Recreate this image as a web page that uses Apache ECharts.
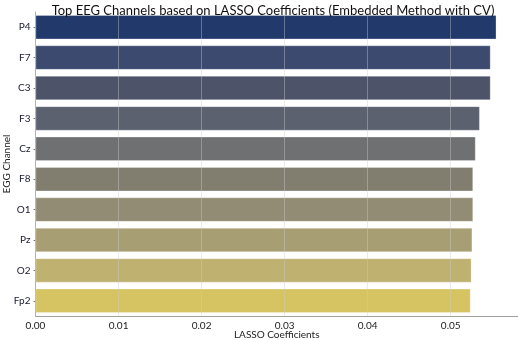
<!DOCTYPE html>
<html>
<head>
<meta charset="utf-8">
<script src="https://cdn.jsdelivr.net/npm/echarts@6/dist/echarts.min.js"></script>
<style>
  html, body { margin: 0; padding: 0; background: #fff; }
  #chart { width: 518px; height: 340px; }
</style>
</head>
<body>
<div id="chart"></div>
<script>
// Channels ranked by absolute LASSO coefficient (top to bottom)
const channels = ['P4', 'F7', 'C3', 'F3', 'Cz', 'F8', 'O1', 'Pz', 'O2', 'Fp2'];
const coefficients = [0.0555, 0.0548, 0.0548, 0.0535, 0.0530, 0.0527, 0.0527, 0.0526, 0.0525, 0.0524];
const barColors = ['#213a6b', '#3b4a6e', '#4d546a', '#5c6170', '#6f7072',
                   '#817e70', '#928c74', '#a89e74', '#bfb170', '#d6c462'];
const xTicks = [0, 0.01, 0.02, 0.03, 0.04, 0.05];

const FONT = 'Lato, "Open Sans", sans-serif';

const chart = echarts.init(document.getElementById('chart'), null, { renderer: 'canvas' });

chart.setOption({
  animation: false,
  backgroundColor: '#ffffff',
  title: {
    text: 'Top EEG Channels based on LASSO Coefficients (Embedded Method with CV)',
    left: 268,
    top: -1,
    textAlign: 'center',
    textStyle: { fontFamily: FONT, fontSize: 13, fontWeight: 'normal', color: '#111' }
  },
  grid: { left: 35.5, right: 0, top: 12, bottom: 24, outerBoundsMode: 'none', containLabel: false },
  xAxis: {
    type: 'value',
    min: 0,
    max: 0.0581,
    interval: 0.01,
    z: 3,
    name: 'LASSO Coefficients',
    nameLocation: 'middle',
    nameGap: 14,
    nameMoveOverlap: false,
    nameTextStyle: { fontFamily: FONT, fontSize: 10, color: '#222' },
    axisLine: { show: true, lineStyle: { color: '#a0a0a0', width: 1 } },
    axisTick: { show: false },
    axisLabel: {
      fontFamily: FONT, fontSize: 10, color: '#222', margin: 5,
      showMaxLabel: false,
      formatter: v => (xTicks.some(t => Math.abs(t - v) < 1e-9) ? v.toFixed(2) : '')
    },
    splitLine: { show: true, lineStyle: { color: 'rgba(205,205,205,0.4)', width: 1 } }
  },
  yAxis: {
    type: 'category',
    data: channels,
    inverse: true,
    name: 'EGG Channel',
    nameLocation: 'middle',
    nameGap: 24,
    nameMoveOverlap: false,
    nameRotate: 90,
    nameTextStyle: { fontFamily: FONT, fontSize: 10, color: '#222' },
    axisLine: { show: true, lineStyle: { color: '#a0a0a0', width: 1 } },
    axisTick: { show: true, alignWithLabel: true, length: 2, lineStyle: { color: '#777' } },
    axisLabel: { fontFamily: FONT, fontSize: 10, color: '#1a1a33', margin: 5 }
  },
  series: [{
    type: 'bar',
    data: coefficients.map((v, i) => ({ value: v, itemStyle: { color: barColors[i] } })),
    barWidth: '80%',
    itemStyle: { borderColor: 'rgba(255,255,255,0.35)', borderWidth: 0.8 }
  }]
});
</script>
</body>
</html>
